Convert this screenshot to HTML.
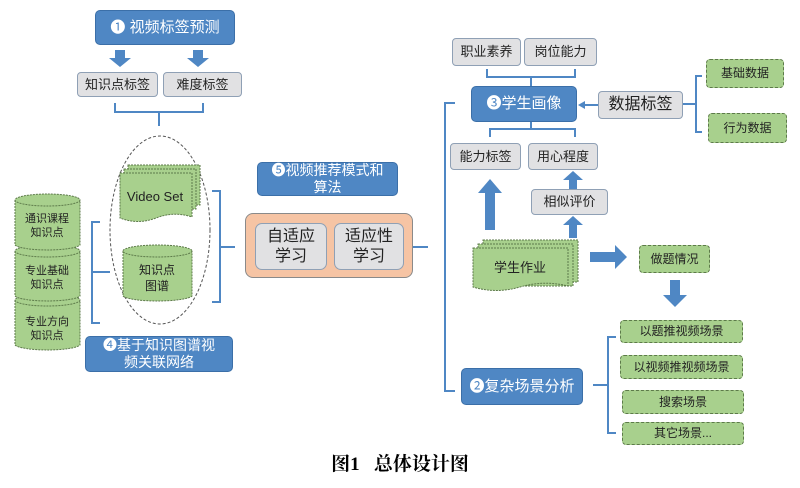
<!DOCTYPE html>
<html><head><meta charset="utf-8"><style>
body{margin:0;width:800px;height:488px;background:#fff;position:relative;overflow:hidden;font-family:"Liberation Sans","Noto Sans CJK SC",sans-serif;}
.a{position:absolute;box-sizing:border-box;display:flex;align-items:center;justify-content:center;text-align:center;line-height:1.2;}
.blue{background:#4f87c4;color:#fff;border:1px solid #3b6fa8;border-radius:5px;font-size:15px;}
.gray{background:#e1e1e3;border:1.5px solid #8fa0b5;border-radius:4px;font-size:13px;color:#222;}
.green{background:#a8d08d;border:1px dashed #5d7a4a;border-radius:4px;font-size:12px;color:#222;}
svg{position:absolute;left:0;top:0}
</style></head><body>
<svg width="800" height="488">
<g stroke="#4f87c4" stroke-width="2" fill="none">
<path d="M115 103v9h88v-9M159 112v14"/>
<path d="M100 222h-8v101h8M92 272h18"/>
<path d="M212 191h8v111h-8M220 247h15"/>
<path d="M413 247h15M455 103h-10v288h10"/>
<path d="M487 69v8h88v-8M531 77v9"/>
<path d="M490 137v-8h85v8M531 129v-7"/>
<path d="M702 76h-6v56h6M683 104h13"/>
<path d="M616 337h-8v96h8M593 385h15"/>
<path d="M598 105h-16"/>
</g>
<path d="M578 105l7-4v8z" fill="#4f87c4"/>
<g fill="#4f87c4">
<path d="M115 50h10v8h6l-11 9-11-9h6z"/>
<path d="M193 50h10v8h6l-11 9-11-9h6z"/>
<path d="M485 230h10v-37h7l-12-14-12 14h7z"/>
<path d="M569 189h8v-9h6l-10-9-10 9h6z"/>
<path d="M569 238h8v-13h6l-10-9-10 9h6z"/>
<path d="M590 252h25v-7l12 12-12 12v-7h-25z"/>
<path d="M670 280h10v15h7l-12 12-12-12h7z"/>
</g>
<ellipse cx="160" cy="230" rx="50" ry="94" fill="none" stroke="#555" stroke-width="1" stroke-dasharray="3,2"/>
<g fill="#a8d08d" stroke="#5d7a4a" stroke-dasharray="2,1">
<path d="M128 165h72v40h-72z"/><path d="M124 169h72v40h-72z"/>
<path d="M120 173h72v44q-18-6-36 1t-36 0z"/>
<path d="M483 240h95v42h-95z"/><path d="M478 244h95v42h-95z"/>
<path d="M473 248h95v38q-24-6-48 1t-47 0z"/>
</g>
<g fill="#a8d08d" stroke="#5d7a4a" stroke-dasharray="2,1">
<path d="M123 251v45a35 6 0 0 0 69 0v-45"/><ellipse cx="157.5" cy="251" rx="34.5" ry="6"/>
<path d="M15 300v45a33 6 0 0 0 65 0v-45"/><ellipse cx="47.5" cy="300" rx="32.5" ry="6"/>
<path d="M15 251v45a33 6 0 0 0 65 0v-45"/><ellipse cx="47.5" cy="251" rx="32.5" ry="6"/>
<path d="M15 200v45a33 6 0 0 0 65 0v-45"/><ellipse cx="47.5" cy="200" rx="32.5" ry="6"/>
</g>
<g font-family="Liberation Sans,Noto Sans CJK SC,sans-serif" font-size="11" text-anchor="middle" fill="#222">
<text x="47" y="222">通识课程</text><text x="47" y="236">知识点</text>
<text x="47" y="274">专业基础</text><text x="47" y="288">知识点</text>
<text x="47" y="325">专业方向</text><text x="47" y="339">知识点</text>
<text x="157" y="274" font-size="12">知识点</text><text x="157" y="290" font-size="12">图谱</text>
<text x="155" y="201" font-size="13">Video Set</text>
<text x="520" y="272" font-size="13">学生作业</text>
</g>
</svg>
<div class="a blue" style="left:95px;top:10px;width:140px;height:35px;">❶ 视频标签预测</div>
<div class="a gray" style="left:77px;top:72px;width:81px;height:25px;">知识点标签</div>
<div class="a gray" style="left:163px;top:72px;width:79px;height:25px;">难度标签</div>
<div class="a blue" style="left:257px;top:162px;width:141px;height:34px;font-size:14px;">❺视频推荐模式和<br>算法</div>
<div class="a" style="left:245px;top:213px;width:168px;height:65px;background:#f6c4a4;border:1.5px solid #8a8a8a;border-radius:8px;"></div>
<div class="a gray" style="left:255px;top:223px;width:72px;height:47px;font-size:16px;border-radius:7px;">自适应<br>学习</div>
<div class="a gray" style="left:334px;top:223px;width:70px;height:47px;font-size:16px;border-radius:7px;">适应性<br>学习</div>
<div class="a blue" style="left:85px;top:336px;width:148px;height:36px;font-size:14px;">❹基于知识图谱视<br>频关联网络</div>
<div class="a gray" style="left:452px;top:38px;width:69px;height:28px;">职业素养</div>
<div class="a gray" style="left:524px;top:38px;width:73px;height:28px;">岗位能力</div>
<div class="a blue" style="left:471px;top:86px;width:106px;height:36px;">❸学生画像</div>
<div class="a gray" style="left:598px;top:91px;width:85px;height:28px;font-size:16px;">数据标签</div>
<div class="a green" style="left:706px;top:59px;width:78px;height:29px;">基础数据</div>
<div class="a green" style="left:708px;top:113px;width:79px;height:30px;">行为数据</div>
<div class="a gray" style="left:450px;top:143px;width:71px;height:27px;">能力标签</div>
<div class="a gray" style="left:528px;top:143px;width:70px;height:27px;">用心程度</div>
<div class="a gray" style="left:531px;top:189px;width:77px;height:26px;">相似评价</div>
<div class="a green" style="left:639px;top:245px;width:71px;height:28px;">做题情况</div>
<div class="a blue" style="left:461px;top:368px;width:122px;height:37px;">❷复杂场景分析</div>
<div class="a green" style="left:620px;top:320px;width:123px;height:23px;">以题推视频场景</div>
<div class="a green" style="left:620px;top:355px;width:123px;height:24px;">以视频推视频场景</div>
<div class="a green" style="left:622px;top:390px;width:122px;height:24px;">搜索场景</div>
<div class="a green" style="left:622px;top:422px;width:122px;height:23px;">其它场景...</div>
<div class="a" style="left:300px;top:452px;width:200px;height:26px;font-size:19px;font-weight:bold;font-family:'Liberation Serif','Noto Serif CJK SC',serif;">图1&nbsp;&nbsp;&nbsp;总体设计图</div>
</body></html>
